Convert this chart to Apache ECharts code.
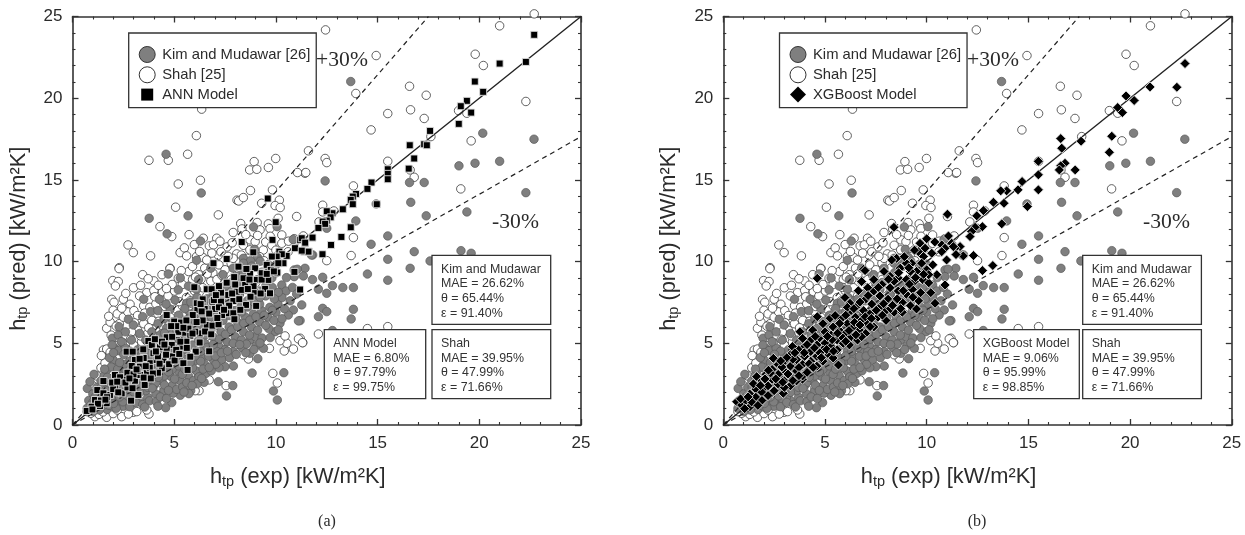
<!DOCTYPE html>
<html><head><meta charset="utf-8">
<script src="https://cdn.jsdelivr.net/npm/echarts@6/dist/echarts.min.js"></script>
<style>html,body{margin:0;padding:0;background:#fff}#c{width:1245px;height:535px}</style>
</head><body><div id="c"></div>
<script>
const kimName='Kim and Mudawar [26]', shahName='Shah [25]', annName='ANN Model', xgbName='XGBoost Model';
const shahPoints=[[22.7,25.16],[21,24.43],[12.44,24.18],[14.93,22.61],[19.8,22.69],[20.2,22],[13.93,20.29],[16.57,20.73],[17.39,20.18],[16.62,19.29],[15.5,19.06],[17.29,18.76],[22.29,19.8],[18.98,19.24],[19.39,19.08],[14.68,18.06],[17.62,17.65],[19.6,17.39],[11.6,16.78],[12.42,16.31],[12.5,16.06],[11.43,15.41],[15.5,16.14],[16.6,15.61],[16.8,15.16],[13.81,14.63],[19.09,14.45],[12.3,13.45],[12.3,13.04],[12.85,13.1],[12.12,12.43],[11.35,11.57],[13.81,11.47],[12.5,10.06],[13.7,10.37],[6.35,19.33],[6.09,17.71],[5.66,16.57],[3.76,16.2],[4.71,16.2],[5.2,14.75],[6.29,14.98],[8.93,16.12],[8.71,15.61],[9.06,15.65],[9.63,15.76],[9.99,16.31],[11.06,15.45],[11.47,15.45],[8.75,14.35],[9.83,14.39],[8.09,13.76],[8.17,13.71],[8.4,13.92],[5.07,13.33],[9.3,13.57],[10.17,13.76],[9.96,13.43],[10.21,13.31],[7.17,12.86],[11.02,12.76],[10.11,12.65],[8.27,12.33],[9.08,12.39],[9.63,12.31],[7.9,11.78],[8.33,12],[4.3,12.14],[4.88,11.53],[5.73,11.65],[2.73,11.02],[2.99,10.55],[3.84,10.35],[5.29,10.55],[5.5,10.84],[5.99,11.04],[6.43,11.43],[7.09,11.43],[6.73,10.96],[6.93,11.02],[8.73,11.33],[9.22,11.94],[9.71,12.02],[10.29,11.63],[10.29,11.12],[8.98,11.22],[9.38,10.71],[8.07,10.47],[7.17,10.39],[5.61,10.35],[6.1,10.31],[6.43,10.24],[2.3,9.63],[4.8,9.59],[12.09,5.57],[11.32,5.04],[11.19,5.31],[14.5,5.9],[15.5,6.02],[9.85,3.16],[10.07,2.57],[7.55,2.41],[6.72,2.76],[6.22,2.1],[6.03,2.1],[10.41,4.53],[10.86,4.65],[10.54,5],[10.2,5.16],[10.45,5.45],[11.11,5.27],[11.31,5.04],[9.68,4.69],[8.65,4.04],[1.52,4.59],[1.68,4.65],[1.68,5.92],[1.93,7.69],[2.04,7.51],[2.83,7.39],[1.98,8.84],[2.25,8.78],[2.11,8.51],[2.29,9.57],[3.45,9.2],[4,8.82],[3.65,8.1],[4,8.24],[4.43,8.16],[4.79,9.57],[5.2,8.98],[5.71,9.39],[1.1,.51],[1.68,.47],[2.42,.51],[2.99,.78],[3.76,.67],[3.65,.92],[2,.7],[2.75,.67],[3.16,.82],[1.3,.65],[1.5,.8],[.9,.72],[.72,.82],[2.2,.92],[1.85,6.3],[2,7.02],[2.2,6.8],[2.3,6.2],[2.5,6.6],[1.9,5.5],[2.2,5.2],[2.72,6.92],[3.02,7],[3.2,6.7],[3.5,7.3],[3.8,7.2],[4.1,7.42],[4.4,7.6],[4.7,7.9],[5.02,8.2],[5.4,8.6],[5.9,8.9],[6.2,9.2],[6.5,9.6],[6.9,9.3],[7.2,9.8],[7.5,9.5],[7.8,9.9],[5.6,7.8],[6,8.2],[6.4,8.4],[6.8,8.8],[7.1,8.9],[7.5,8.7],[3.2,5.8],[3.5,6.2],[3.9,6.4],[4.2,6.8],[4.5,6.9],[2.6,5.5],[2.9,5.7],[3.1,5.2],[1.4,3.5],[1.6,3.8],[1.2,3],[1,2.4],[2.3,4.2],[2.7,4.6],[3,4.9],[3.4,5.1],[3.7,5.6],[4.1,5.9],[4.4,6.1],[4.8,6.6],[5.1,7.1],[5.4,7.3],[5.8,7.6],[6.2,7.7],[6.6,7.9],[7,8.1],[7.4,8.3],[7.8,8.9],[8.1,9.2],[8.5,9.6],[8.3,10.4],[8.6,10.2],[8.9,10.6],[9.2,10.3],[9.5,11.2],[9.8,11],[10,10.7],[10.6,10.6],[10.9,11.4],[9.1,11.6],[8.4,11],[7.6,10.9],[7.3,10.6],[6.6,10.1],[7.9,10.2],[5.9,9.7],[4.4,9.2],[4.9,8.6],[3.3,7.9],[2.5,7.7],[3,8.4],[1.75,3.3],[2,3.5],[2.5,3.9],[3.2,4.1],[3.6,4.5],[4,4.9],[4.5,5.2],[5,5.5],[5.5,6.1],[6,6.4],[6.5,6.9],[7,7.2],[7.6,7.5],[8.2,8],[9,8.7],[9.6,9.4],[1.3,2.1],[1.7,2.5],[2.2,2.9],[2.8,3.3],[3.3,3.1],[3.9,3.4],[4.4,3.7],[5,3.9],[5.6,4.2],[6.2,4.6],[6.8,5],[7.4,5.1],[8,4.9],[8.4,4.3],[4.1,2.2],[4.6,2.6],[3.5,1.7],[3,1.5],[2.4,1.3],[5.2,2.8],[5.8,3],
[2.15,6.05],[2.42,7.15],[1.78,6.65],[2.62,8.05],[3.35,8.55],[3.72,8.95],[4.22,8.55],[4.62,8.35],[5.35,9.45],[6.05,9.05],[6.62,9.25],[7.35,9.15],[8.25,9.62],[7.65,10.32],[6.85,10.52],[6.25,10.62],[8.72,10.72],[9.42,10.05],[10.05,10.35],[10.62,11.25],[9.72,11.55],[8.52,11.65],[7.85,11.15],[7.25,11.25],[5.85,8.42],[6.32,8.92],[7.82,8.32],[8.62,8.82],[9.32,9.35],[3.05,6.25],[3.55,6.85],[4.05,7.85],[4.55,7.25],[5.25,7.55],[5.85,7.15],[6.45,7.35],[7.25,7.65],[1.42,4.25],[1.85,4.45],[2.15,4.85],[2.45,5.05],[2.85,5.25],[3.35,5.45],[3.75,5.95],[4.25,6.35],[4.75,6.15],[5.25,6.55],[5.75,6.95]];
const kimPoints=[[13.68,21.02],[12.42,14.94],[20.17,17.86],[22.69,17.49],[19,15.86],[19.79,16.02],[21,16.14],[16.57,14.84],[17.29,14.84],[22.29,14.22],[16.63,13.63],[14.93,13.53],[19.39,13.04],[17.39,12.8],[13.93,12.49],[12.5,12.04],[15.5,11.57],[14.68,11.06],[16.8,10.61],[15.5,10.14],[11.81,10.41],[16.6,9.59],[17.58,10.04],[19.1,10.67],[19.6,10.51],[11.43,9.59],[14.5,9.24],[15.5,8.86],[12.3,9.04],[11.35,9.12],[12.78,8.53],[12.5,8.06],[12.09,8.31],[13.29,8.41],[13.81,8.41],[11.27,7.35],[12.3,7.14],[12.5,6.94],[12.09,6.63],[13.81,7.08],[13.7,6.49],[11.19,6.39],[12.78,5.78],[4.6,16.57],[6.33,14.2],[3.77,12.65],[5.68,12.8],[4.65,11.7],[6.29,11.26],[8.9,12.12],[10.06,12.14],[10.85,11.35],[11.75,10.4],[6.1,10.08],[8.95,10.75],[8.4,10.2],[9.1,10.25],[8.75,10.05],[10.9,9.49],[11.05,9.53],[10.9,9.08],[11.8,8.9],[10.29,8.57],[8.83,3.18],[10.39,3.2],[9.88,2.08],[10.07,1.53],[7.88,2.41],[7.57,1.78],[7.17,2.65],[6.47,2.61],[5.81,2.1],[5.3,1.82],[4.88,1.37],[4.58,1.06],[9.11,4.06],[7.91,3.61],[7.5,3.57],[7.2,3.5],[.73,2.24],[1.06,3.1],[.86,2.65],[1.68,3.37],[2,3.98],[1.9,3.55],[2.09,4.69],[2.25,4.55],[1.96,5.31],[2.25,5.51],[2.29,6.02],[2.75,6.47],[2.99,6.12],[3.45,6.63],[3.84,6.94],[4.27,7.69],[4.71,9.24],[5.2,8.27],[5.04,7.65],[5.61,7.45],[6.1,8.3],[8.4,9.9],[8.6,9.5],[10.86,7.04],[10.61,6.73],[11.11,6.37],[10.2,6.22],[9.96,5.71],[9.65,5.9],[9.39,4.69],[8.73,5.2],[8.98,5.41],[7.91,4.49],[8.73,4.39],[6.93,3.98],[6.5,3.7],[.8,1.5],[1,1.9],[1.2,2.3],[1.4,2.7],[1.55,3],[1.2,1.3],[1.4,1.1],[1.6,1.5],[1.8,1.8],[2,2.2],[2.2,2.6],[2.4,3],[2.6,3.4],[2.8,3.9],[3,4.3],[3.2,4.6],[1.7,.95],[2,1.1],[2.3,1.3],[2.6,1.6],[2.9,1.9],[3.2,2.2],[3.5,2.5],[3.8,2.8],[4.1,3.1],[4.4,3.4],[4.7,3.7],[5,4],[5.3,4.3],[5.6,4.6],[5.9,4.9],[6.2,5.2],[6.5,5.5],[6.8,5.8],[7.1,6.1],[7.4,6.4],[7.7,6.7],[8,7],[8.3,7.3],[8.6,7.6],[8.9,7.9],[9.2,8.2],[9.5,8.5],[2.5,1.15],[2.9,1.3],[3.3,1.5],[3.7,1.7],[4.1,1.9],[4.5,2.1],[4.9,2.4],[5.3,2.7],[5.7,3],[6.1,3.3],[2.7,2.1],[3,2.5],[3.4,2.9],[3.7,3.3],[4,3.6],[4.3,4],[4.6,4.4],[4.9,4.7],[5.2,5],[5.5,5.3],[5.8,5.6],[6.1,5.9],[6.4,6.2],[6.7,6.5],[7,6.8],[7.3,7.1],[7.6,7.4],[7.9,7.7],[8.2,8],[8.5,8.3],[8.8,8.6],[9.1,8.9],[9.4,9.2],[9.7,9.5],[10,9.8],[3.1,3.3],[3.4,3.7],[3.7,4.1],[4,4.5],[4.3,4.9],[4.6,5.3],[4.9,5.6],[5.2,6],[5.5,6.4],[5.8,6.8],[6.1,7.2],[6.4,7.6],[3.6,5.2],[3.9,5.7],[4.2,6.2],[4.5,6.5],[4.8,7.1],[3.3,5.6],[2.6,4.7],[2.9,5.2],[3.1,1.7],[3.6,2.1],[4,2.4],[4.4,2.7],[4.8,3],[5.2,3.3],[5.6,3.6],[6,3.9],[6.4,4.2],[6.8,4.5],[7.2,4.8],[7.6,5.1],[8,5.4],[8.4,5.7],[8.8,6],[9.2,6.3],[9.6,6.6],[10,6.9],[5.4,3.1],[5.9,3.5],[6.3,3.9],[6.7,4.2],[7.1,4.5],[7.5,4.6],[7.9,5],[8.3,5.2],[8.7,5.5],[9.1,5.8],[9.5,6.1],[9.9,6.4],[10.3,6.5],[10.1,7.4],[9.7,7.2],[9.3,7],[8.9,6.8],[8.5,6.6],[8.1,6.3],[7.7,6],[7.3,5.7],[6.9,5.4],[6.5,5],[6.1,4.5],[5.7,4.1],[5.3,3.8],[4.9,3.4],[4.5,3],[4.1,2.6],[3.7,2.3],[3.3,2],[2.9,1.6],[2.5,1.9],[2.1,1.5],[1.8,1.2],[9.8,9],[9.5,7.9],[9.2,7.4],[10.5,8.2],[10.7,7.6],[10.3,7.8],[8.3,8.7],[8.1,9.1],[7.7,8.3],[7.4,7.9],[7,7.6],[6.6,7.1],[6.3,6.7],[6,6.4],[5.7,6.1],[5.4,5.8],[5.1,5.5],[4.8,5.1],[4.5,4.8],[4.2,4.4],[3.9,4],[3.6,3.6],[3.3,3.2],[3,2.9],[2.7,2.7],[2.4,2.3],[2.1,2.9],[1.8,2.5],[1.5,2],[1.3,1.7],[1,1.4],[6.2,8.9],[6.8,9.6],[7.4,9.2],[7.9,9.6],[5.7,8.5],[5.3,9],[4.6,7.4],[4.2,7],[3.5,7.7],[2.6,5.7],[1.95,4.9],[2.4,5.1],
[2.15,1.02],[2.48,1.42],[2.82,1.12],[3.12,1.38],[3.45,1.25],[3.78,1.48],[4.12,1.42],[4.32,1.72],[4.62,1.62],[4.95,1.95],[5.12,2.18],[5.42,2.32],[5.62,2.58],[5.95,2.72],[6.22,2.95],[6.55,3.15],[6.82,3.32],[7.05,3.72],[7.35,4.02],[7.72,4.12],[8.05,4.32],[8.35,4.72],[8.55,4.95],[9.02,4.85],[9.32,5.32],[9.72,5.35],[10.12,5.82],[1.52,1.22],[1.92,1.62],[2.32,1.72],[2.72,1.78],[3.02,2.02],[3.28,2.52],[3.62,2.78],[3.92,2.25],[4.22,2.92],[4.52,2.45],[4.72,3.25],[5.02,2.82],[5.22,3.62],[5.52,3.42],[5.78,3.82],[6.02,4.22],[6.32,4.52],[6.62,4.75],[6.92,4.92],[7.22,5.25],[7.52,5.55],[7.82,5.82],[8.12,6.02],[8.42,6.22],[8.72,6.42],[9.02,6.62],[9.42,6.72],[9.82,7.02],[3.22,2.82],[3.52,3.12],[3.82,3.52],[4.12,3.82],[4.42,4.22],[4.72,4.52],[5.02,4.82],[5.32,5.12],[5.62,5.42],[5.92,5.72],[6.22,6.02],[6.52,6.32],[6.82,6.62],[7.12,6.32],[7.42,6.82],[7.72,7.12],[8.02,6.62],[8.32,6.92],[8.62,7.22],[8.92,7.52],[9.22,7.82],[9.52,8.12],[9.82,8.42],[10.12,8.12],[2.22,3.42],[2.52,3.72],[2.82,4.52],[3.12,3.92],[3.42,4.32],[3.72,4.72],[4.02,5.12],[4.32,5.52],[4.62,5.92],[4.92,6.32],[5.22,6.72],[5.52,7.12],[5.82,7.52],[6.12,7.82],[1.42,2.32],[1.72,2.92],[1.62,2.12],[1.12,1.72],[.92,1.22],[.72,1.02],[1.32,.92],[1.02,.82],[1.58,3.42],[1.82,4.12],[2.02,4.42],[2.32,3.82],[2.52,4.32],[3.02,3.52],[3.32,3.82],[3.62,4.42],[3.92,4.82],[4.22,5.02],[4.52,5.62],[4.82,5.32],[5.12,5.82],[5.42,6.22],[5.72,6.52],[6.02,6.92],[6.32,7.32],[6.62,7.72],[6.92,8.02],[7.22,8.22],[7.52,8.52],[7.82,8.72],[8.42,9.32],[8.82,9.72],[9.22,10.02],[9.62,9.82],[10.02,9.32],[10.52,9.02],[10.82,8.42],[11.02,8.02],[10.42,7.12],[9.92,7.72],[5.72,1.92],[6.12,2.52],[6.42,3.42],[6.72,3.52],[7.02,4.22],[7.32,4.42],[7.62,4.52],[8.22,4.92],[8.52,4.42],[8.92,4.62],[9.22,5.02],[4.2,1.15],[3.55,1.1],[4.72,2.12],[5.48,2.02],[5.88,2.42],[6.35,2.85],[2.02,1.32],[2.62,2.42],[2.92,2.72],[3.22,3.22],[3.52,3.42]];
const annPoints=[[22.7,23.88],[22.29,22.22],[21,22.12],[19.78,21.02],[20.19,20.39],[19.39,19.84],[19.09,19.51],[19.6,19.12],[18.99,18.43],[17.58,18],[17.29,17.18],[17.42,17.12],[16.58,17.12],[16.8,16.31],[16.53,15.69],[15.5,15.65],[15.5,15.37],[15.5,15.04],[14.7,14.84],[14.5,14.45],[13.94,14.14],[13.78,13.98],[13.68,13.78],[13.78,13.51],[14.96,13.51],[13.29,13.2],[12.78,12.96],[12.5,13.08],[12.69,12.71],[12.5,12.51],[12.3,12.45],[12.42,12.31],[12.09,12.06],[13.68,12.1],[13.22,11.51],[11.79,11.47],[11.19,11.33],[11.43,11.12],[12.71,11.02],[11.39,10.61],[11.63,10.61],[12.29,10.45],[9.6,13.86],[9.99,12.41],[8.32,11.2],[9.83,11.33],[7.58,10.16],[6.93,9.9],[8.89,10.57],[10.17,10.61],[10.53,10.35],[10.94,10.82],[11.27,11.43],[11.8,11.47],[11.44,11.16],[11.6,10.61],[11.27,10.67],[10.29,10.45],[10.04,10.31],[9.8,10.31],[8.16,9.69],[9.55,9.8],[10.37,9.9],[10.12,9.9],[8.98,9.59],[10.91,9.37],[11.19,8.29],[9.3,9.29],[9.75,9.49],[10.07,9.33],[8.73,9.24],[8.41,8.98],[9.06,8.88],[9.63,8.88],[8.49,8.57],[8.98,8.16],[9.47,8.33],[9.71,8.06],[7.58,8.71],[6.6,8.31],[6.84,8.31],[5.99,8.43],[8.07,8.16],[7.3,8.1],[7.66,7.96],[8.32,8.27],[6.4,7.69],[6.88,7.55],[7.3,7.55],[7.91,7.59],[8.53,7.35],[9.03,7.29],[6.11,7.45],[7.01,7.1],[6.14,7.04],[5.91,6.73],[4.63,6.73],[7.58,6.84],[7.91,6.84],[7.35,6.73],[7.96,6.47],[5,6.33],[5.34,6.27],[6.6,6.12],[6.88,6.08],[7.18,6.16],[6.27,5.61],[6.03,5.71],[5.5,5.65],[5.79,5.47],[4.63,5.37],[3.73,5.14],[5.13,5.2],[4.3,4.76],[4.88,4.9],[5.37,4.8],[4.63,4.63],[2.66,4.49],[2.96,4.49],[3.48,4.63],[3.98,4.39],[6.06,4.49],[6.72,4.51],[5.79,4.18],[3.81,3.78],[3.07,3.98],[2.91,3.61],[3.32,3.57],[3.65,3.2],[4.14,3.98],[4.47,3.98],[4.39,3.47],[5.45,3.78],[5.66,3.37],[1.52,2.69],[2.09,3.06],[2.58,2.92],[2.34,2.92],[2.42,2.55],[3.07,2.71],[3.32,3.06],[2.42,1.94],[1.84,1.84],[1.22,2.14],[1.52,1.94],[3.24,1.84],[2.88,1.49],[1.11,1.53],[1.35,1.16],[.94,1.12],[.7,.86],[1.68,1.33],[2.1,2.3],[2.7,2.3],[3.5,2.9],[3.8,3.5],[4.2,3.2],[4.9,4.2],[5.1,4.6],[4.2,4.2],[3.5,4.1],[3.9,4.9],[5.6,5.1],[6.4,6.4],[6.1,6.3],[5.7,5.9],[5.2,5.7],[6.5,7.1],[7.2,7.2],[7.7,7.3],[8.2,7.7],[8.9,8.5],[9.3,8.9],[9.9,9.4],[8.7,8.9],[8,8.6],[7.2,8.5],[6.3,7.4],[5.6,6.4],[4.9,5.4],[4.4,5.1],[3.2,3.3],[2.7,3.2],[2,2.2],[1.7,1.7],[1.4,1.5],[1.95,2.6],[2.25,2],[2.6,2.6],[3,3.1],[3.6,3.6],[4.1,4.5],[4.6,4.3],[5.3,5.1],[5.9,5.6],[3.3,4.05],[3.15,3.4],[2.8,2.85],[3.95,3.15],[4.75,3.72],[5.02,3.95],[5.25,4.35],[4.52,4.92],[4.05,5.25],[5.62,4.72],[6.25,5.05],[6.52,5.72],[6.82,5.55],[7.12,6.55],[6.72,6.82],[6.35,6.95],[5.45,5.95],[5.1,6.05],[4.85,6.05],[6.95,7.65],[7.45,7.05],[8.25,7.05],[8.75,7.85],[9.25,8.05],[8.62,8.32],[7.85,8.05],[7.05,7.95],[9.55,9.25],[8.55,9.55],[7.95,9.05],[2.2,2.65],[1.62,1.55],[1.25,1.3],[.98,.95],[2.95,2.25],[3.55,2.45],[3.85,2.85],[4.28,3.75]];
const xgbPoints=[[22.7,22.12],[22.3,20.67],[20.98,20.69],[19.8,20.14],[20.2,19.86],[19.39,19.43],[19.62,19.12],[19.1,17.67],[18.98,16.69],[17.59,17.37],[16.59,17.53],[16.64,16.94],[16.8,16.02],[16.59,15.86],[16.52,15.61],[17.3,15.61],[15.49,16.14],[15.49,15.31],[15.49,14.39],[14.69,14.9],[14.49,14.39],[13.93,14.33],[13.64,14.33],[13.8,13.57],[14.95,13.37],[13.28,13.63],[12.79,13.12],[12.46,12.8],[13.69,12.31],[12.74,12.14],[12.38,12.1],[12.21,11.84],[12.13,11.53],[11.64,10.92],[11.8,10.35],[11.39,10.82],[11.23,11.12],[12.3,10.37],[13.25,9.76],[12.74,9.45],[11.44,10.43],[11.02,12.9],[8.39,12.1],[11.07,11.57],[10.74,11.02],[10.9,10.82],[11.31,10.92],[9.67,11.12],[9.92,10.82],[9.59,10.61],[10.25,10.51],[9.84,10.31],[10.74,10.61],[8.52,10.2],[8.28,10.1],[9.26,9.9],[9.75,9.9],[10.98,10.1],[6.89,9.53],[4.62,8.98],[6.97,9.45],[6.8,8.78],[10.9,8.57],[10.41,7.45],[5.98,7.8],[6.64,8.22],[6.23,7.45],[4.62,6.63],[5.25,6.53],[3.77,5.71],[5.66,3.67],[3.89,2.8],[2.46,4.08],[.66,1.43],[.9,1.22],[1.31,1.12],[1.64,2.96],[1.97,2.24],[2.38,1.94],[2.95,1.94],[8.7,9.6],[9,9.9],[9.5,9.4],[10,9.5],[10.3,9.8],[10.5,9.2],[8.2,9.1],[8.6,9],[9,8.9],[9.4,8.8],[9.8,8.9],[10.1,8.7],[7.8,8.6],[8.2,8.4],[8.6,8.2],[9,8],[9.3,8.3],[9.7,8.1],[7.4,8.2],[7.7,7.9],[8.1,7.7],[8.4,7.5],[8.8,7.5],[9.2,7.3],[9.6,7.6],[7,7.7],[7.3,7.4],[7.7,7.2],[8,7],[8.4,6.9],[6.6,7.3],[6.9,7],[7.2,6.8],[7.6,6.6],[6.2,6.9],[6.5,6.6],[6.8,6.4],[7.1,6.2],[5.8,6.5],[6.1,6.2],[6.4,6],[6.7,5.8],[7,5.6],[5.4,6],[5.7,5.8],[6,5.6],[6.3,5.4],[6.6,5.2],[5,5.7],[5.3,5.5],[5.6,5.2],[5.9,5],[4.7,5.3],[5,5],[5.3,4.8],[5.6,4.6],[4.3,5.2],[4.6,4.9],[4.9,4.6],[5.2,4.3],[4,4.8],[4.3,4.5],[4.6,4.2],[4.9,3.9],[3.7,4.6],[4,4.2],[4.3,3.9],[4.6,3.6],[3.3,4.3],[3.6,4],[3.9,3.7],[4.2,3.4],[3,3.9],[3.3,3.6],[3.6,3.3],[3.9,3],[2.7,3.7],[3,3.3],[3.3,3],[3.6,2.7],[2.4,3.4],[2.7,3.1],[3,2.7],[3.3,2.4],[2.1,3.1],[2.4,2.8],[2.7,2.5],[3,2.3],[1.9,2.7],[2.2,2.4],[2.5,2.1],[1.6,2.2],[1.9,2],[2.2,1.8],[1.3,1.9],[1.6,1.7],[1.9,1.5],[1.1,1.5],[1.4,1.4],[1.7,1.2],[.85,1.6],[1.05,1],[7.9,9.4],[7.4,8.9],[7.1,8.4],[6.1,7.2],[5.5,6.7],[4.9,6.2],[4.4,5.8],[3.9,5.3],[3.4,4.8],[5.4,4.1],[6.2,4.9],[6.8,5.4],[7.4,6],[8,6.4],[8.8,6.9],[9.5,7.1],[10.2,8.1],[10.1,9.2],[8.9,10.3],[9.4,10.7],[10,11.4],[10.4,11.2],[9.2,9.4],[8.4,8.8],
[1.22,1.72],[1.48,2.52],[1.82,2.42],[2.05,2.82],[2.32,3.18],[2.58,2.82],[2.88,3.55],[3.18,3.12],[3.42,4.02],[3.72,3.52],[3.98,4.42],[4.22,3.75],[4.48,4.72],[4.75,4.42],[5.08,4.62],[5.35,5.22],[5.62,5.62],[5.88,5.32],[6.18,5.78],[6.45,6.28],[6.72,6.12],[6.98,6.62],[7.28,6.52],[7.52,7.02],[7.88,7.42],[8.22,7.12],[8.55,7.72],[8.85,8.22],[9.15,8.62],[9.45,9.02],[9.85,9.22],[6.02,6.72],[6.42,7.12],[5.72,6.22],[5.12,5.42],[4.52,5.42],[4.12,4.92],[3.52,4.42],[3.12,4.12],[2.82,3.92],[2.22,3.35],[6.72,7.52],[7.12,7.92],[7.62,8.42],[8.12,8.92],[8.62,9.32],[9.12,9.62],[4.82,4.12],[5.42,4.52],[6.02,5.12],[6.52,5.52],[7.22,6.02],[7.82,6.72],[8.32,7.32],[8.72,7.12],[9.32,7.82],[2.92,2.62],[3.42,2.72],[3.72,3.02],[4.12,3.22],[4.42,3.52]];
const statsKim=['Kim and Mudawar','MAE = 26.62%','θ = 65.44%','ε = 91.40%'];
const statsShah=['Shah','MAE = 39.95%','θ = 47.99%','ε = 71.66%'];
const statsAnn=['ANN Model','MAE = 6.80%','θ = 97.79%','ε = 99.75%'];
const statsXgb=['XGBoost Model','MAE = 9.06%','θ = 95.99%','ε = 98.85%'];
const lineUnity=[[0,0],[25,25]];
const linePlus=[[0,0],[17.5,25]];
const lineMinus=[[0,0],[25,17.65]];

const FONT='"Liberation Sans",Arial,sans-serif', SERIF='"Liberation Serif","Times New Roman",serif', INK='#2b2b2b';
const panels=[{left:72.5,model:annName,pts:annPoints,sym:'rect',size:7,stats:statsAnn,modelBox:[324.3,101.4],kimX:432,cap:'(a)',capX:327,plusX:342,minusX:515.5},
 {left:723.3,model:xgbName,pts:xgbPoints,sym:'diamond',size:10,stats:statsXgb,modelBox:[973.7,105.6],kimX:1082.7,cap:'(b)',capX:977,plusX:993,minusX:1166.5}];
const W=508.5,H=408.5,TOP=16.5;
const rich={a:{fontFamily:FONT,fontSize:21.8,color:INK},s:{fontFamily:FONT,fontSize:14.5,color:INK,padding:[9,0,0,0]}};
const grid=[],xAxis=[],yAxis=[],series=[],legend=[],graphic=[];
function axisBase(){return {type:'value',min:0,max:25,interval:5,splitLine:{show:false},
 axisLine:{show:true,onZero:false,lineStyle:{color:'#333',width:1.6}},
 axisTick:{show:true,inside:true,length:6,lineStyle:{color:'#333',width:1.3}},
 minorTick:{show:true,splitNumber:5,length:3,lineStyle:{color:'#333',width:1.1}},
 axisLabel:{show:true,fontFamily:FONT,fontSize:17,color:INK,margin:10,hideOverlap:false}};}
function box(x,y,w,h,lines){
 graphic.push({type:'rect',z:100,shape:{x:x,y:y,width:w,height:h},style:{fill:'#fff',stroke:'#333',lineWidth:1.3}});
 graphic.push({type:'text',z:101,x:x+9,y:y+6.5,style:{text:lines.join('\n'),fontFamily:FONT,fontSize:12.4,lineHeight:14.7,fill:'#333'}});
}
panels.forEach((p,i)=>{
 grid.push({left:p.left,top:TOP,width:W,height:H,containLabel:false});
 const xb=axisBase(),xt=axisBase(),yl=axisBase(),yr=axisBase();
 xb.gridIndex=i;xb.position='bottom';xb.name='{a|h}{s|tp}{a| (exp) [kW/m²K]}';xb.nameLocation='middle';xb.nameGap=40;xb.nameTextStyle={rich:rich,padding:[0,58,0,0]};
 xt.gridIndex=i;xt.position='top';xt.axisLabel={show:false};
 yl.gridIndex=i;yl.position='left';yl.name='{a|h}{s|tp}{a| (pred) [kW/m²K]}';yl.nameLocation='middle';yl.nameGap=42;yl.nameRotate=90;yl.nameTextStyle={rich:rich,padding:[0,36,0,0]};
 yr.gridIndex=i;yr.position='right';yr.axisLabel={show:false};
 xAxis.push(xb,xt);yAxis.push(yl,yr);
 const ax={xAxisIndex:i*2,yAxisIndex:i*2};
 series.push({...ax,type:'scatter',name:shahName,data:shahPoints,symbol:'circle',symbolSize:8.5,z:2,clip:false,itemStyle:{color:'#fff',borderColor:'#3a3a3a',borderWidth:.8,opacity:1}});
 series.push({...ax,type:'scatter',name:kimName,data:kimPoints,symbol:'circle',symbolSize:8.5,z:3,clip:false,itemStyle:{color:'#7f7f7f',borderColor:'#5a5a5a',borderWidth:.7,opacity:1}});
 [[lineUnity,'solid',1.4,'y = x'],[linePlus,[5,4],1.2,'+30%'],[lineMinus,[5,4],1.2,'-30%']].forEach(l=>{
  series.push({...ax,type:'line',name:l[3],data:l[0],showSymbol:false,symbol:'none',z:4,silent:true,lineStyle:{color:'#222',width:l[2],type:l[1]}});
 });
 series.push({...ax,type:'scatter',name:p.model,data:p.pts,symbol:p.sym,symbolSize:p.size,z:5,clip:false,itemStyle:{color:'#000',borderColor:'#e2e2e2',borderWidth:.9,opacity:1}});
 legend.push({show:true,orient:'vertical',left:p.left+56.2,top:33,padding:[13,6,5,10],itemGap:3.3,itemWidth:16,itemHeight:16,selectedMode:false,z:100,
  backgroundColor:'#fff',borderColor:'#333',borderWidth:1.3,
  textStyle:{fontFamily:FONT,fontSize:14.8,color:INK,padding:[0,0,0,2]},
  data:[{name:kimName,icon:'circle',itemStyle:{color:'#7f7f7f',borderColor:'#333',borderWidth:1}},
        {name:shahName,icon:'circle',itemStyle:{color:'#fff',borderColor:'#333',borderWidth:1}},
        {name:p.model,icon:p.sym==='rect'?'path://M0,0M16,16M2,2H14V14H2Z':'path://M8,0L16,8L8,16L0,8Z',itemStyle:{color:'#000',borderWidth:0}}]});
 box(p.kimX,255.3,118.7,69,statsKim);
 box(p.kimX,329.7,118.7,69,statsShah);
 box(p.modelBox[0],329.7,p.modelBox[1],69,p.stats);
 graphic.push({type:'text',z:101,x:p.plusX,y:60,style:{text:'+30%',fontFamily:SERIF,fontSize:21.6,fill:INK,align:'center',verticalAlign:'middle'}});
 graphic.push({type:'text',z:101,x:p.minusX,y:222,style:{text:'-30%',fontFamily:SERIF,fontSize:21.6,fill:INK,align:'center',verticalAlign:'middle'}});
 graphic.push({type:'text',z:101,x:p.capX,y:521.5,style:{text:p.cap,fontFamily:SERIF,fontSize:16,fill:INK,align:'center',verticalAlign:'middle'}});
});
const chart=echarts.init(document.getElementById('c'),null,{renderer:'canvas'});
chart.setOption({animation:false,backgroundColor:'#fff',grid,xAxis,yAxis,series,legend,graphic,tooltip:{show:false}});
</script></body></html>
